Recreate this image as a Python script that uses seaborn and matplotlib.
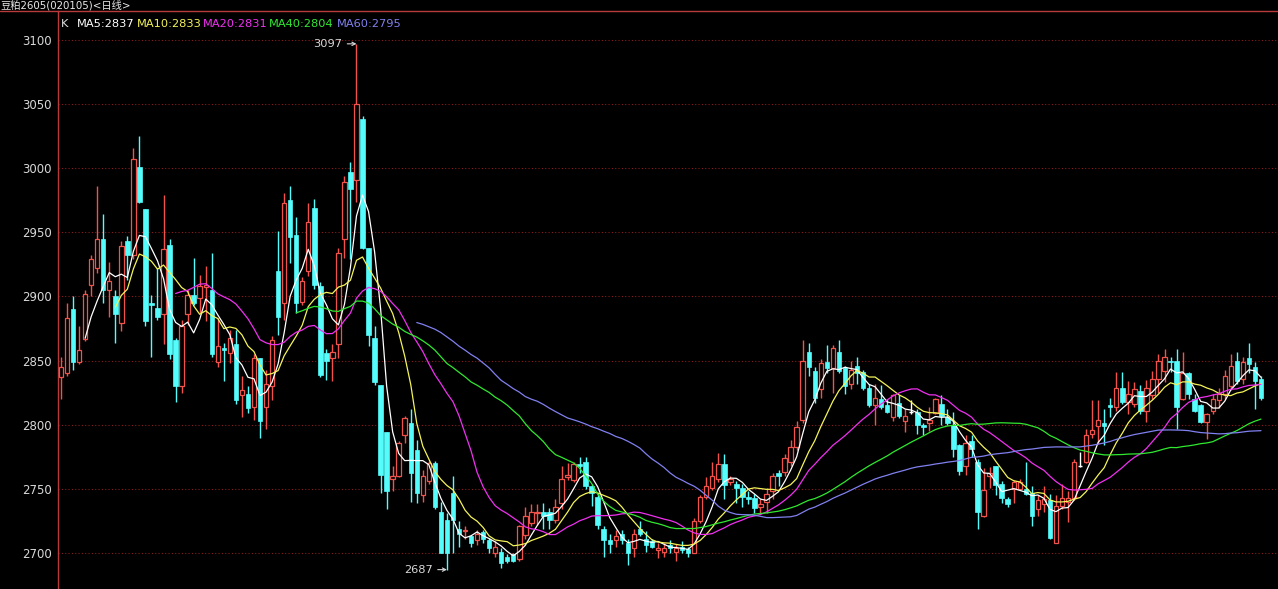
import numpy as np
import pandas as pd
import matplotlib
matplotlib.use("Agg")
import matplotlib.pyplot as plt
from matplotlib.lines import Line2D
import seaborn as sns

# ---------------- data ----------------
title_text = "豆粕2605(020105)<日线>"
header_labels = ["K", "MA5:2837", "MA10:2833", "MA20:2831", "MA40:2804", "MA60:2795"]
ma_windows = [5, 10, 20, 40, 60]
y_ticks = [2700, 2750, 2800, 2850, 2900, 2950, 3000, 3050, 3100]
high_label = "3097"
low_label = "2687"

opens = [
    2837, 2840, 2890, 2849, 2867, 2909, 2922, 2945, 2905, 2900, 2879, 2943, 2932, 3001, 2968, 2895, 2891, 2886, 2940, 2866,
    2830, 2886, 2901, 2899, 2907, 2905, 2849, 2860, 2856, 2863, 2823, 2824, 2814, 2852, 2814, 2830, 2920, 2895, 2975, 2948,
    2896, 2920, 2969, 2908, 2856, 2852, 2863, 2945, 2997, 2991, 3038, 2938, 2868, 2831, 2794, 2758, 2760, 2792, 2801, 2780,
    2745, 2756, 2770, 2732, 2726, 2747, 2719, 2717, 2713, 2710, 2716, 2710, 2700, 2701, 2697, 2699, 2695, 2714, 2723, 2731,
    2732, 2732, 2726, 2739, 2759, 2757, 2769, 2771, 2752, 2744, 2719, 2710, 2710, 2715, 2708, 2704, 2719, 2711, 2709, 2702,
    2701, 2706, 2701, 2705, 2703, 2700, 2725, 2744, 2751, 2758, 2769, 2755, 2754, 2751, 2744, 2743, 2736, 2740, 2748, 2762,
    2763, 2771, 2783, 2804, 2857, 2842, 2828, 2849, 2844, 2857, 2844, 2832, 2846, 2841, 2829, 2815, 2820, 2815, 2806, 2817,
    2803, 2810, 2810, 2800, 2801, 2809, 2816, 2806, 2800, 2784, 2768, 2787, 2771, 2729, 2760, 2768, 2754, 2742, 2750, 2750,
    2750, 2747, 2734, 2738, 2741, 2708, 2737, 2740, 2743, 2768, 2771, 2793, 2799, 2801, 2815, 2814, 2829, 2818, 2816, 2826,
    2811, 2823, 2836, 2842, 2850, 2850, 2820, 2840, 2820, 2815, 2802, 2811, 2819, 2824, 2830, 2850, 2836, 2852, 2845, 2836,
]
closes = [
    2845, 2883, 2849, 2858, 2902, 2929, 2945, 2905, 2912, 2886, 2939, 2932, 3007, 2974, 2881, 2893, 2884, 2937, 2855, 2830,
    2877, 2901, 2895, 2908, 2909, 2855, 2861, 2858, 2868, 2819, 2827, 2813, 2852, 2803, 2832, 2866, 2884, 2973, 2946, 2895,
    2912, 2958, 2909, 2839, 2850, 2857, 2934, 2989, 2984, 3050, 2938, 2870, 2833, 2761, 2748, 2760, 2786, 2805, 2762, 2747,
    2760, 2770, 2736, 2700, 2700, 2726, 2715, 2718, 2708, 2715, 2711, 2704, 2705, 2692, 2694, 2694, 2721, 2729, 2732, 2732,
    2729, 2726, 2736, 2758, 2761, 2769, 2768, 2752, 2747, 2722, 2710, 2707, 2713, 2710, 2700, 2715, 2715, 2706, 2705, 2704,
    2704, 2704, 2704, 2702, 2700, 2725, 2744, 2752, 2760, 2769, 2753, 2758, 2751, 2744, 2742, 2735, 2738, 2746, 2760, 2760,
    2774, 2783, 2798, 2850, 2845, 2821, 2848, 2844, 2860, 2842, 2830, 2843, 2840, 2829, 2815, 2821, 2814, 2810, 2823, 2807,
    2807, 2810, 2800, 2798, 2804, 2820, 2807, 2801, 2781, 2764, 2786, 2781, 2732, 2749, 2762, 2753, 2743, 2738, 2755, 2755,
    2746, 2729, 2741, 2742, 2712, 2737, 2743, 2743, 2771, 2768, 2792, 2796, 2804, 2799, 2814, 2829, 2818, 2824, 2828, 2811,
    2829, 2836, 2850, 2853, 2849, 2814, 2840, 2824, 2811, 2802, 2808, 2820, 2824, 2838, 2846, 2834, 2849, 2847, 2834, 2821,
]
highs = [
    2853, 2895, 2900, 2877, 2905, 2932, 2986, 2964, 2927, 2905, 2943, 2947, 3016, 3025, 2968, 2901, 2922, 2979, 2945, 2868,
    2882, 2905, 2930, 2917, 2924, 2934, 2883, 2864, 2874, 2874, 2838, 2830, 2855, 2852, 2843, 2869, 2951, 2981, 2986, 2962,
    2915, 2973, 2976, 2911, 2859, 2863, 2938, 2994, 3005, 3097, 3041, 2938, 2877, 2831, 2794, 2768, 2787, 2807, 2812, 2788,
    2765, 2772, 2772, 2740, 2731, 2760, 2725, 2721, 2714, 2718, 2718, 2712, 2709, 2704, 2699, 2700, 2722, 2736, 2738, 2738,
    2739, 2735, 2742, 2768, 2770, 2771, 2775, 2775, 2754, 2747, 2721, 2715, 2718, 2718, 2711, 2719, 2725, 2717, 2711, 2708,
    2708, 2710, 2707, 2709, 2705, 2727, 2745, 2759, 2771, 2778, 2777, 2760, 2756, 2754, 2748, 2746, 2742, 2751, 2762, 2765,
    2777, 2788, 2803, 2866, 2864, 2845, 2851, 2862, 2862, 2866, 2846, 2850, 2853, 2843, 2832, 2832, 2831, 2820, 2824, 2823,
    2812, 2819, 2812, 2801, 2814, 2821, 2823, 2812, 2810, 2785, 2792, 2792, 2773, 2766, 2767, 2768, 2756, 2744, 2757, 2758,
    2771, 2752, 2745, 2752, 2746, 2745, 2754, 2748, 2773, 2779, 2797, 2819, 2819, 2812, 2821, 2841, 2841, 2834, 2833, 2831,
    2835, 2842, 2855, 2859, 2853, 2859, 2857, 2841, 2824, 2816, 2809, 2824, 2829, 2843, 2855, 2857, 2853, 2864, 2849, 2838,
]
lows = [
    2820, 2838, 2843, 2847, 2865, 2900, 2918, 2895, 2884, 2864, 2873, 2913, 2929, 2973, 2877, 2853, 2882, 2863, 2851, 2818,
    2825, 2878, 2893, 2887, 2881, 2853, 2845, 2834, 2848, 2816, 2806, 2809, 2804, 2790, 2797, 2819, 2870, 2882, 2926, 2887,
    2893, 2916, 2906, 2837, 2835, 2834, 2852, 2930, 2929, 2974, 2937, 2861, 2831, 2747, 2734, 2748, 2759, 2786, 2740, 2739,
    2740, 2754, 2734, 2700, 2687, 2700, 2705, 2711, 2705, 2706, 2708, 2700, 2697, 2688, 2692, 2693, 2694, 2711, 2721, 2722,
    2719, 2719, 2723, 2734, 2757, 2755, 2762, 2750, 2737, 2719, 2697, 2700, 2705, 2707, 2691, 2697, 2713, 2701, 2704, 2696,
    2697, 2700, 2694, 2700, 2697, 2700, 2723, 2742, 2749, 2755, 2742, 2753, 2739, 2736, 2738, 2731, 2731, 2731, 2742, 2752,
    2760, 2768, 2780, 2801, 2838, 2817, 2821, 2840, 2825, 2840, 2824, 2828, 2832, 2827, 2814, 2800, 2812, 2809, 2803, 2805,
    2794, 2808, 2793, 2792, 2795, 2808, 2800, 2800, 2775, 2761, 2761, 2775, 2719, 2728, 2751, 2745, 2739, 2736, 2739, 2749,
    2745, 2721, 2729, 2732, 2711, 2708, 2734, 2724, 2741, 2767, 2770, 2790, 2785, 2784, 2806, 2811, 2816, 2808, 2814, 2808,
    2802, 2820, 2825, 2833, 2841, 2797, 2819, 2820, 2810, 2801, 2789, 2808, 2813, 2820, 2827, 2832, 2832, 2840, 2812, 2819,
]

# ---------------- style ----------------
UP = "#F2524C"
DOWN = "#54FCFC"
DOJI = "#FFFFFF"
MA_COLORS = ["#FFFFFF", "#F4F45A", "#F030F0", "#30E830", "#8080F0"]
HEADER_COLORS = ["#E0E0E0", "#FFFFFF", "#F4F45A", "#F030F0", "#30E830", "#8080F0"]
GRID = "#8C1C1C"
AXIS = "#B83A3A"
TEXT = "#D8D8D8"

sns.set_theme(style="dark", rc={"axes.facecolor": "black", "figure.facecolor": "black"})
plt.rcParams["font.family"] = ["DejaVu Sans", "Noto Sans CJK SC"]

W, H = 1278, 589
fig = plt.figure(figsize=(W / 100, H / 100), dpi=100, facecolor="black")
ax_left, ax_top = 58, 11
ax = fig.add_axes([ax_left / W, 0, (W - ax_left) / W, (H - ax_top) / H])
ax.set_facecolor("black")

df = pd.DataFrame({"open": opens, "high": highs, "low": lows, "close": closes})
df["idx"] = np.arange(len(df))

up = df[df.close > df.open]
dn = df[df.close < df.open]
dj = df[df.close == df.open]

bw = 0.74
# wicks
ax.vlines(up.idx, up.low, up.high, color=UP, lw=1.0, zorder=2)
ax.vlines(dn.idx, dn.low, dn.high, color=DOWN, lw=1.0, zorder=2)
ax.vlines(dj.idx, dj.low, dj.high, color=DOJI, lw=1.0, zorder=2)
# bodies
ax.bar(up.idx, up.close - up.open, bottom=up.open, width=bw,
       facecolor="black", edgecolor=UP, linewidth=0.9, zorder=3)
ax.bar(dn.idx, dn.open - dn.close, bottom=dn.close, width=bw,
       facecolor=DOWN, edgecolor=DOWN, linewidth=0.5, zorder=3)
ax.hlines(dj.close, dj.idx - bw / 2, dj.idx + bw / 2, color=DOJI, lw=1.0, zorder=3)

# moving averages
for w, c in zip(ma_windows, MA_COLORS):
    ma = df.close.rolling(w).mean()
    sns.lineplot(x=df.idx, y=ma, ax=ax, color=c, lw=0.9, estimator=None,
                 zorder=4, legend=False)

# axes
px_per_unit = 6.03
ax.set_xlim(-0.5, -0.5 + (W - ax_left) / px_per_unit)
ax.set_ylim(2671.9, 3122.6)
ax.set_yticks(y_ticks)
ax.set_yticklabels([str(t) for t in y_ticks])
ax.set_xticks([])
ax.set_xlabel("")
ax.set_ylabel("")
ax.tick_params(axis="y", length=0, pad=4.5, labelsize=8.5, labelcolor=TEXT)
ax.grid(False)
for t in y_ticks:
    ax.axhline(t, color=GRID, lw=0.8, ls=(0, (1, 2)), zorder=1)
for s in ["right", "bottom", "top"]:
    ax.spines[s].set_visible(False)
ax.spines["left"].set_color(AXIS)
ax.spines["left"].set_linewidth(1.0)

# top separator line
fig.add_artist(Line2D([0, 1], [1 - ax_top / H, 1 - ax_top / H],
                      transform=fig.transFigure, color=AXIS, lw=1.0))

# title and MA header
fig.text(0.5 / W, 1 - 5.5 / H, title_text, color="#E8E8E8", fontsize=7.4,
         va="center", ha="left", family=["DejaVu Sans", "Noto Sans CJK SC"])
header_x = [61, 77, 137, 203, 269, 337]
for lab, xx, c in zip(header_labels, header_x, HEADER_COLORS):
    fig.text(xx / W, 1 - 24 / H, lab, color=c, fontsize=8.2, va="center", ha="left")

# extreme annotations
hi_i = int(np.argmax(highs))
lo_i = int(np.argmin(lows))
ax.annotate(high_label, xy=(hi_i, highs[hi_i]), xytext=(-10, 0), textcoords="offset points",
            ha="right", va="center", color=TEXT, fontsize=8.2,
            arrowprops=dict(arrowstyle="->", color=TEXT, lw=0.8, shrinkA=1, shrinkB=0,
                            mutation_scale=6))
ax.annotate(low_label, xy=(lo_i, lows[lo_i]), xytext=(-10, 0), textcoords="offset points",
            ha="right", va="center", color=TEXT, fontsize=8.2,
            arrowprops=dict(arrowstyle="->", color=TEXT, lw=0.8, shrinkA=1, shrinkB=0,
                            mutation_scale=6))

fig.savefig("out.png", dpi=100, facecolor="black")
